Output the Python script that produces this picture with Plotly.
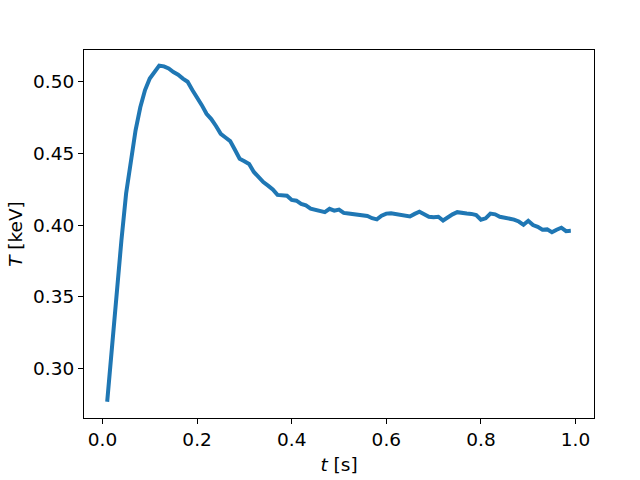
import plotly.graph_objects as go

t_values = [round(0.01 * i, 2) for i in range(1, 100)]
T_values = [
    0.277, 0.316, 0.356, 0.389, 0.422, 0.446, 0.466, 0.482, 0.494, 0.502,
    0.507, 0.511, 0.5105, 0.509, 0.5065, 0.5047, 0.502, 0.4998, 0.494, 0.489,
    0.4835, 0.4775, 0.4738, 0.469, 0.4635, 0.461, 0.4585, 0.4525, 0.4462, 0.4445,
    0.4425, 0.437, 0.4335, 0.430, 0.4275, 0.4248, 0.421, 0.421, 0.4205, 0.4175,
    0.417, 0.4148, 0.4138, 0.4115, 0.4105, 0.4095, 0.4090, 0.4113, 0.4100, 0.4108,
    0.4085, 0.4080, 0.4075, 0.4072, 0.4072, 0.4063, 0.4048, 0.4040, 0.4065, 0.4080,
    0.4083, 0.4077, 0.4072, 0.4066, 0.4060, 0.4078, 0.4093, 0.4076, 0.4058, 0.4055,
    0.4058, 0.4032, 0.4057, 0.4075, 0.4090, 0.4083, 0.4080, 0.4078, 0.4070, 0.4037,
    0.4047, 0.4080, 0.4075, 0.4058, 0.4053, 0.4048, 0.4038, 0.4025, 0.4002, 0.4030,
    0.4000, 0.3988, 0.3968, 0.3970, 0.3950, 0.3968, 0.3982, 0.3958, 0.3960,
]

x_tick_vals = [0.0, 0.2, 0.4, 0.6, 0.8, 1.0]
x_tick_text = ["0.0", "0.2", "0.4", "0.6", "0.8", "1.0"]
y_tick_vals = [0.30, 0.35, 0.40, 0.45, 0.50]
y_tick_text = ["0.30", "0.35", "0.40", "0.45", "0.50"]

fig = go.Figure()
fig.add_trace(go.Scatter(
    x=t_values, y=T_values, mode="lines",
    line=dict(color="#1f77b4", width=4),
    showlegend=False,
))

font = dict(family="DejaVu Sans", size=18.5, color="black")
axis_common = dict(
    showline=True, linecolor="black", linewidth=1.2, mirror=True,
    ticks="outside", ticklen=5, tickwidth=1.2, tickcolor="black",
    showgrid=False, zeroline=False, tickfont=font, automargin=False,
)

fig.update_layout(
    width=640, height=480,
    margin=dict(l=84, r=46, t=50, b=62),
    paper_bgcolor="white", plot_bgcolor="white",
    font=font,
    xaxis=dict(range=[-0.039, 1.039], tickvals=x_tick_vals, ticktext=x_tick_text,
               title=dict(text="<i>t</i> [s]", font=font, standoff=8), **axis_common),
    yaxis=dict(range=[0.2657, 0.5219], tickvals=y_tick_vals, ticktext=y_tick_text,
               title=dict(text="<i>T</i> [keV]", font=font, standoff=5), **axis_common),
)

fig.write_html(
    "out.html",
    config={"displayModeBar": False},
    post_script="document.body.style.margin='0';document.body.style.overflow='hidden';",
)
